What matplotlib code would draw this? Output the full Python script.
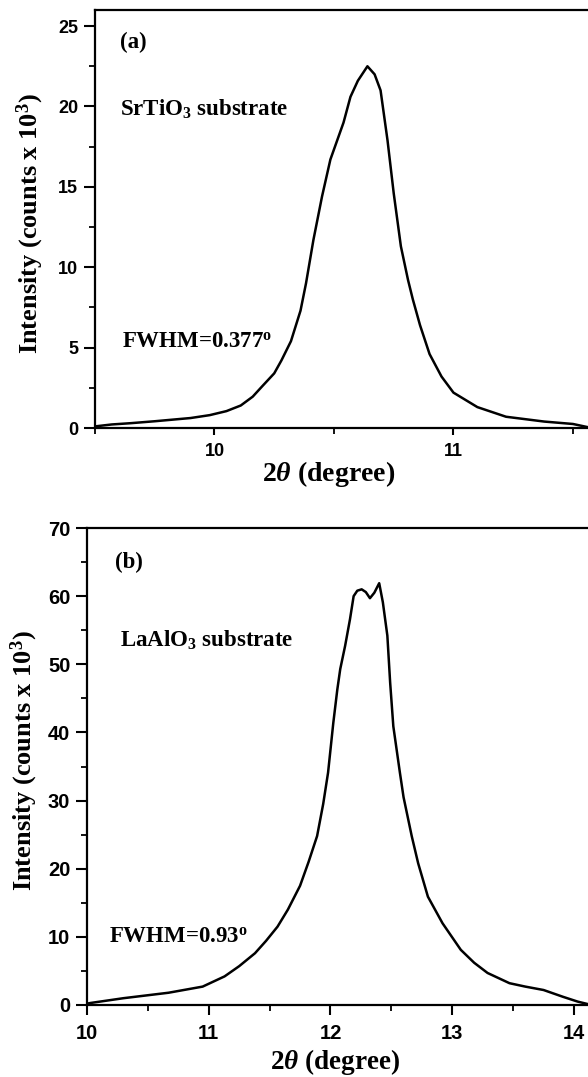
import matplotlib
matplotlib.use("Agg")
import matplotlib.pyplot as plt
import numpy as np
from matplotlib.ticker import MultipleLocator

plt.rcParams['mathtext.fontset'] = 'custom'
plt.rcParams['mathtext.rm'] = 'Liberation Serif:bold'
plt.rcParams['mathtext.it'] = 'Liberation Serif:italic:bold'
plt.rcParams['mathtext.bf'] = 'Liberation Serif:bold'

# panel (a): SrTiO3 substrate
twotheta_a = [9.50, 9.57, 9.65, 9.75, 9.81, 9.90, 9.98, 10.05, 10.11, 10.16, 10.20, 10.25,
              10.28, 10.32, 10.36, 10.383, 10.414, 10.45, 10.485, 10.54, 10.569, 10.60,
              10.64, 10.67, 10.695, 10.724, 10.75, 10.78, 10.81, 10.83, 10.86, 10.90, 10.95,
              11.00, 11.10, 11.22, 11.38, 11.50, 11.563]
counts_a = [0.10, 0.22, 0.30, 0.42, 0.50, 0.62, 0.80, 1.05, 1.40, 1.95, 2.60, 3.40,
            4.20, 5.40, 7.30, 9.00, 11.7, 14.4, 16.7, 19.0, 20.6, 21.6,
            22.5, 22.0, 21.0, 17.9, 14.6, 11.3, 9.2, 8.0, 6.4, 4.6, 3.2,
            2.2, 1.3, 0.7, 0.4, 0.25, 0.05]

# panel (b): LaAlO3 substrate
twotheta_b = [10.00, 10.03, 10.30, 10.67, 10.95, 11.13, 11.25, 11.38, 11.47, 11.565, 11.65,
              11.75, 11.82, 11.89, 11.94, 11.98, 12.023, 12.056, 12.08, 12.12, 12.16, 12.19,
              12.22, 12.256, 12.29, 12.324, 12.36, 12.40, 12.43, 12.467, 12.49, 12.516,
              12.57, 12.60, 12.667, 12.72, 12.80, 12.92, 13.07, 13.18, 13.29, 13.47, 13.60,
              13.75, 13.91, 14.03, 14.11]
counts_b = [0.2, 0.3, 1.0, 1.8, 2.7, 4.2, 5.7, 7.6, 9.4, 11.5, 14.0,
            17.5, 21.0, 24.8, 29.5, 34.1, 41.4, 46.3, 49.3, 52.7, 56.6, 60.0,
            60.8, 61.0, 60.6, 59.7, 60.5, 61.9, 59.1, 54.2, 47.3, 40.9,
            34.1, 30.5, 24.8, 20.8, 15.9, 12.0, 8.1, 6.2, 4.7, 3.2, 2.7,
            2.2, 1.2, 0.5, 0.15]

serif = 'Liberation Serif'
sans = 'Liberation Sans'

fig = plt.figure(figsize=(5.88, 10.77), dpi=100)

def style_axes(ax, fs, xlen, xpad):
    for s in ['left', 'bottom', 'top']:
        ax.spines[s].set_linewidth(1.6)
    ax.spines['right'].set_visible(False)
    ax.tick_params(which='major', direction='out', width=1.5, labelsize=fs)
    ax.tick_params(axis='y', which='major', length=8, pad=4)
    ax.tick_params(axis='x', which='major', length=xlen, pad=xpad)
    ax.tick_params(which='minor', direction='out', length=4, width=1.3)
    for lab in ax.get_xticklabels() + ax.get_yticklabels():
        lab.set_fontfamily(sans)
        lab.set_fontweight('bold')

def place_labels(ax, xl, yl):
    ax.xaxis.set_label_coords(*xl)
    ax.xaxis.label.set_verticalalignment('center')
    ax.yaxis.set_label_coords(*yl)
    ax.yaxis.label.set_verticalalignment('center')
    ax.yaxis.label.set_horizontalalignment('center')

txt = dict(fontfamily=serif, fontweight='bold', fontsize=16.5, va='center')

# (a)
ax1 = fig.add_axes([95/588, 1-428/1077, 493/588, 418/1077])
ax1.plot(twotheta_a, counts_a, color='black', lw=1.8)
ax1.set_xlim(9.5, 11.563)
ax1.set_ylim(0, 26)
ax1.set_xticks([10, 11])
ax1.xaxis.set_minor_locator(MultipleLocator(0.5))
ax1.yaxis.set_major_locator(MultipleLocator(5))
ax1.yaxis.set_minor_locator(MultipleLocator(2.5))
style_axes(ax1, 13, 5, 6)
ax1.set_xlabel(r'2$\theta$ (degree)', fontfamily=serif, fontweight='bold', fontsize=20)
ax1.set_ylabel(r'Intensity (counts x 10$^3$)', fontfamily=serif, fontweight='bold', fontsize=19)
place_labels(ax1, (0.473, -0.11), (-0.132, 0.49))
ax1.text(0.051, 0.923, '(a)', transform=ax1.transAxes, **txt)
ax1.text(0.051, 0.763, r'SrTiO$_3$ substrate', transform=ax1.transAxes, **txt)
ax1.text(0.055, 0.206, r'FWHM=0.377$^\mathrm{o}$', transform=ax1.transAxes, **txt)

# (b)
ax2 = fig.add_axes([87/588, 1-1005/1077, 501/588, 477/1077])
ax2.plot(twotheta_b, counts_b, color='black', lw=1.8)
ax2.set_xlim(10, 14.115)
ax2.set_ylim(0, 70)
ax2.xaxis.set_major_locator(MultipleLocator(1))
ax2.xaxis.set_minor_locator(MultipleLocator(0.5))
ax2.yaxis.set_major_locator(MultipleLocator(10))
ax2.yaxis.set_minor_locator(MultipleLocator(5))
style_axes(ax2, 14.5, 7, 7)
ax2.set_xlabel(r'2$\theta$ (degree)', fontfamily=serif, fontweight='bold', fontsize=19.5)
ax2.set_ylabel(r'Intensity (counts x 10$^3$)', fontfamily=serif, fontweight='bold', fontsize=19)
place_labels(ax2, (0.495, -0.12), (-0.126, 0.512))
ax2.text(0.056, 0.927, '(b)', transform=ax2.transAxes, **txt)
ax2.text(0.066, 0.765, r'LaAlO$_3$ substrate', transform=ax2.transAxes, **txt)
ax2.text(0.044, 0.143, r'FWHM=0.93$^\mathrm{o}$', transform=ax2.transAxes, **txt)

fig.savefig('out.png', dpi=100)
